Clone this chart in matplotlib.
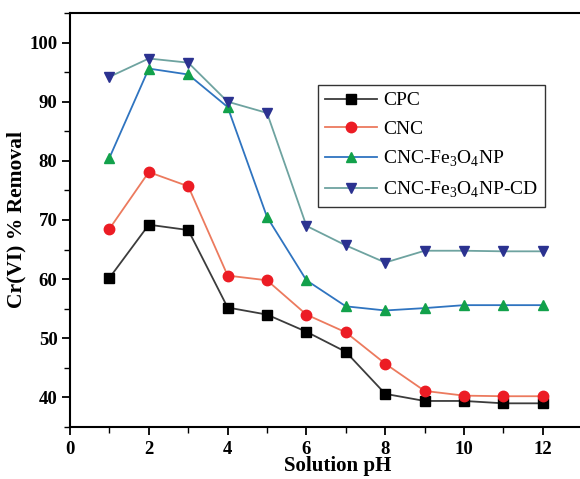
import numpy as np
import matplotlib.pyplot as plt
from matplotlib.ticker import MultipleLocator

plt.rcParams['font.family'] = ['Liberation Serif', 'DejaVu Serif']
plt.rcParams['mathtext.fontset'] = 'custom'
plt.rcParams['mathtext.rm'] = 'Liberation Serif'

ph = [1, 2, 3, 4, 5, 6, 7, 8, 9, 10, 11, 12]
cpc = [60.2, 69.2, 68.3, 55.2, 54.0, 51.1, 47.7, 40.6, 39.4, 39.4, 39.0, 39.0]
cnc = [68.5, 78.1, 75.7, 60.6, 59.8, 54.0, 51.0, 45.7, 41.1, 40.3, 40.2, 40.2]
cnc_fe = [80.5, 95.6, 94.6, 89.1, 70.5, 59.8, 55.4, 54.7, 55.1, 55.6, 55.6, 55.6]
cnc_fe_cd = [94.2, 97.3, 96.6, 90.0, 88.1, 69.0, 65.7, 62.8, 64.8, 64.8, 64.7, 64.7]

series = [
    (cpc, "CPC", "#3c3c3c", "black", "s"),
    (cnc, "CNC", "#ec7a5e", "#ec1c24", "o"),
    (cnc_fe, r"CNC-Fe$_3$O$_4$NP", "#2f74c0", "#12a14b", "^"),
    (cnc_fe_cd, r"CNC-Fe$_3$O$_4$NP-CD", "#6ea3a0", "#2b3290", "v"),
]

fig = plt.figure(figsize=(5.8, 4.79), dpi=100)
# the plot box runs past the right edge of the picture, as in the source figure
ax = fig.add_axes([0.1207, 0.1086, 0.924, 0.8643])

for y, label, lc, mc, m in series:
    ax.plot(ph, y, color=lc, lw=1.3, marker=m, markersize=7.5,
            markerfacecolor=mc, markeredgecolor=mc, label=label)

ax.set_xlim(0, 13.6)
ax.set_ylim(35, 105)
ax.xaxis.set_major_locator(MultipleLocator(2))
ax.xaxis.set_minor_locator(MultipleLocator(1))
ax.yaxis.set_major_locator(MultipleLocator(10))
ax.yaxis.set_minor_locator(MultipleLocator(5))
ax.spines['right'].set_visible(False)
for s in ['left', 'bottom', 'top']:
    ax.spines[s].set_linewidth(1.5)
ax.tick_params(which='major', direction='out', length=6, width=1.3, labelsize=13.5)
ax.tick_params(which='minor', direction='out', length=4, width=1.0)
ax.tick_params(axis='x', which='major', pad=4)
ax.tick_params(axis='y', which='major', pad=3)
for lab in ax.get_xticklabels() + ax.get_yticklabels():
    lab.set_fontweight('bold')

ax.set_xlabel("Solution pH", fontsize=15, fontweight='bold', labelpad=-1)
ax.set_ylabel("Cr(VI) % Removal", fontsize=15.5, fontweight='bold', labelpad=2)

leg = ax.legend(loc='upper left', bbox_to_anchor=(0.463, 0.826), fontsize=14,
                frameon=True, fancybox=False, edgecolor='black',
                handlelength=2.7, handletextpad=0.3, borderpad=0.35,
                borderaxespad=0, labelspacing=0.55)
leg.get_frame().set_linewidth(1.0)

fig.savefig("out.png", dpi=100)
